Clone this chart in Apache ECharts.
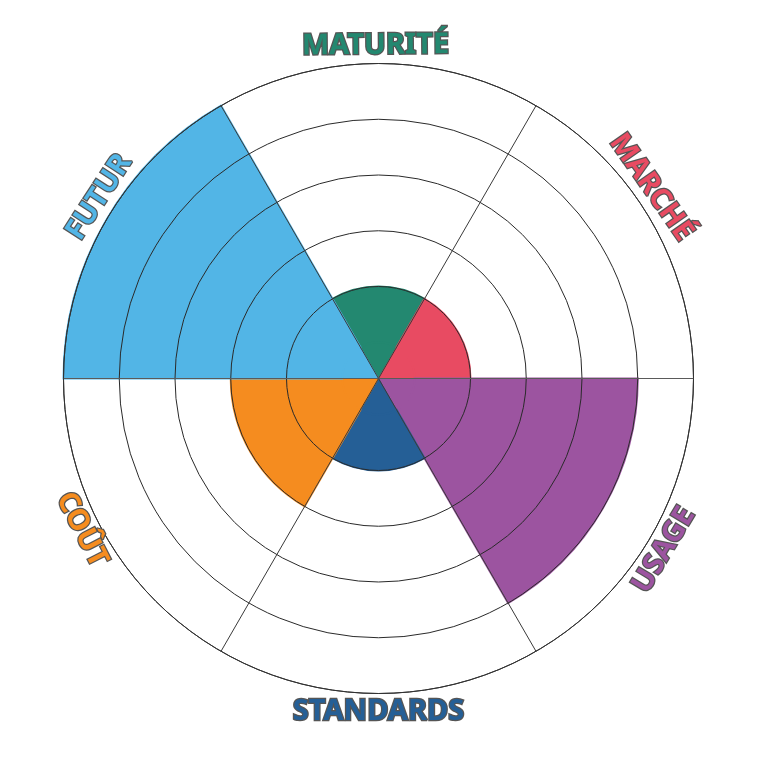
<!DOCTYPE html>
<html>
<head>
<meta charset="utf-8">
<script src="https://cdn.jsdelivr.net/npm/echarts@6/dist/echarts.min.js"></script>
<style>html,body{margin:0;padding:0;background:#fff;}#c{width:757px;height:757px;}</style>
</head>
<body>
<div id="c"></div>
<script>
const categories = ['MATURITÉ', 'MARCHÉ', 'USAGE', 'STANDARDS', 'COÛT', 'FUTUR'];
const levels = [1, 1, 4, 1, 2, 5];
const ringLevels = [1, 2, 3, 4, 5];
const colors = ['#238870', '#e84b62', '#9c54a0', '#255f96', '#f58c1f', '#52b5e6'];
const axisMin = -0.65;
const axisMax = 5;

const chart = echarts.init(document.getElementById('c'), null, {renderer: 'canvas'});
const W = chart.getWidth(), H = chart.getHeight();
const cx = W / 2, cy = H / 2;
const startAngle = 120;
const labelR = 333;
// small angular nudges (degrees) of the hand-placed curved titles in the reference
const labelNudge = [0.5, 5, -1, 0, -3, -3];

const graphics = categories.map(function (name, i) {
  const theta = startAngle - 60 * i - 30 + labelNudge[i];
  const t = theta * Math.PI / 180;
  const sinT = Math.sin(t);
  const rotDeg = sinT >= -0.01 ? theta - 90 : theta + 90;
  return {
    type: 'text',
    x: cx + labelR * Math.cos(t),
    y: cy - labelR * sinT,
    rotation: rotDeg * Math.PI / 180,
    z: 100,
    style: {
      text: name,
      font: 'bold 29px "Noto Sans", "Open Sans", sans-serif',
      fill: colors[i],
      stroke: '#555555',
      lineWidth: 2.5,
      textAlign: 'center',
      textVerticalAlign: 'middle'
    }
  };
});

const option = {
  backgroundColor: '#ffffff',
  animation: false,
  polar: {center: ['50%', '50%'], radius: 315},
  angleAxis: {
    type: 'category',
    data: categories,
    startAngle: startAngle,
    clockwise: true,
    z: 10,
    axisLine: {show: true, lineStyle: {color: '#333', width: 1}},
    axisTick: {show: false},
    axisLabel: {show: false},
    splitLine: {show: true, lineStyle: {color: ['#3a3a3a', '#3a3a3a', '#5a5a5a', '#3a3a3a', '#3a3a3a', '#5a5a5a'], width: 1}}
  },
  radiusAxis: {
    type: 'value',
    min: axisMin,
    max: axisMax,
    z: 10,
    axisLine: {show: false},
    axisTick: {show: false, customValues: ringLevels},
    axisLabel: {show: false, customValues: ringLevels},
    splitLine: {show: true, lineStyle: {color: '#2a2a2a', width: 1}}
  },
  series: [
    {
      type: 'bar',
      coordinateSystem: 'polar',
      stack: 'a',
      barCategoryGap: '0%',
      data: categories.map(function (c, i) {
        return {value: axisMin, itemStyle: {color: colors[i], borderColor: colors[i], borderWidth: 1}};
      }),
      silent: true
    },
    {
      type: 'bar',
      coordinateSystem: 'polar',
      stack: 'a',
      barCategoryGap: '0%',
      data: levels.map(function (v, i) {
        return {value: v, itemStyle: {color: colors[i], borderColor: colors[i], borderWidth: 2}};
      })
    }
  ],
  graphic: graphics
};
chart.setOption(option);
</script>
</body>
</html>
